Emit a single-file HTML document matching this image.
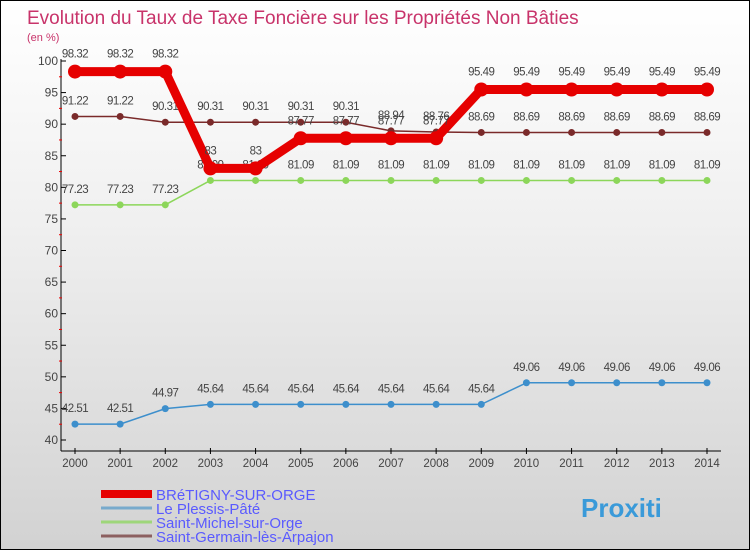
<!DOCTYPE html>
<html><head><meta charset="utf-8"><style>
body{margin:0}
#c{position:relative;width:748px;height:548px;border:1px solid #000;background:linear-gradient(#fff 0%,#f0f0f0 40%,#d2d2d2 100%);overflow:hidden;font-family:"Liberation Sans",sans-serif}
</style></head><body>
<div id="c">
<svg id="s" width="748" height="548" xmlns="http://www.w3.org/2000/svg"></svg>
</div>
<script>
const years=[2000,2001,2002,2003,2004,2005,2006,2007,2008,2009,2010,2011,2012,2013,2014];
const bretigny=[98.32,98.32,98.32,83,83,87.77,87.77,87.77,87.77,95.49,95.49,95.49,95.49,95.49,95.49];
const plessis=[42.51,42.51,44.97,45.64,45.64,45.64,45.64,45.64,45.64,45.64,49.06,49.06,49.06,49.06,49.06];
const michel=[77.23,77.23,77.23,81.09,81.09,81.09,81.09,81.09,81.09,81.09,81.09,81.09,81.09,81.09,81.09];
const germain=[91.22,91.22,90.31,90.31,90.31,90.31,90.31,88.94,88.76,88.69,88.69,88.69,88.69,88.69,88.69];
const yTicks=[40,45,50,55,60,65,70,75,80,85,90,95,100];
const names=["BRéTIGNY-SUR-ORGE","Le Plessis-Pâté","Saint-Michel-sur-Orge","Saint-Germain-lès-Arpajon"];
const NS="http://www.w3.org/2000/svg";
const s=document.getElementById('s');
const X=i=>74+i*(706-74)/(years.length-1);
const Y=v=>439-(v-40)*(439-60)/60;
function el(t,a,txt){const e=document.createElementNS(NS,t);for(const k in a)e.setAttribute(k,a[k]);if(txt!==undefined)e.textContent=txt;s.appendChild(e);return e;}
let e;
e=el('text',{x:26,y:23,fill:'#c8336a','font-size':19},'Evolution du Taux de Taxe Foncière sur les Propriétés Non Bâties');

e=el('text',{x:26,y:40,fill:'#c8336a','font-size':11},'(en %)');

e=el('line',{x1:60,y1:58,x2:60,y2:450,stroke:'#000'});

e=el('line',{x1:60,y1:450,x2:720,y2:450,stroke:'#000'});

yTicks.forEach(v=>{
 e=el('line',{x1:60,y1:Y(v),x2:65,y2:Y(v),stroke:'#000'});
 
 e=el('text',{x:57,y:Y(v)+4,'text-anchor':'end','font-size':12,fill:'#444'},v);
 
 if(v<100){e=el('line',{x1:58,y1:Y(v+2.5),x2:61,y2:Y(v+2.5),stroke:'#e00'});
 }
});
years.forEach((yr,i)=>{
 e=el('line',{x1:X(i),y1:447,x2:X(i),y2:453,stroke:'#000'});
 
 e=el('text',{x:X(i),y:466,'text-anchor':'middle','font-size':11.5,fill:'#444'},yr);
 
});
function series(data,color,w,r,name,dy){
 e=el('polyline',{points:data.map((v,i)=>X(i)+','+Y(v)).join(' '),fill:'none',stroke:color,'stroke-width':w,'stroke-linejoin':'round'});
 
 data.forEach((v,i)=>{
  e=el('circle',{cx:X(i),cy:Y(v),r:r,fill:color});
  
  e=el('text',{x:X(i),y:Y(v)+dy,'text-anchor':'middle','font-size':11.5,fill:'#444','letter-spacing':'-0.5'},v);
  
 });
}
series(michel,'#8cd65a',1.5,3.5,'saint-michel',-12);
series(plessis,'#3d8fcc',1.5,3.5,'plessis',-12);
series(germain,'#7a2a2a',1.5,3.5,'saint-germain',-12);
series(bretigny,'#e60000',9,7,'bretigny',-14);
const lc=['#e60000','#78aacc','#9ed67a','#8c6060'],lw=[8,3,3,3];
names.forEach((n,i)=>{
 const y=493+i*14;
 e=el('line',{x1:100,y1:y,x2:151,y2:y,stroke:lc[i],'stroke-width':lw[i]});
 
 e=el('text',{x:155,y:y+6,'font-size':15,fill:'#5a5aff'},n);
 
});
e=el('text',{x:580,y:516,'font-size':26,'font-weight':'bold',fill:'#3a9ad9'},'Proxiti');

</script>
</body></html>
